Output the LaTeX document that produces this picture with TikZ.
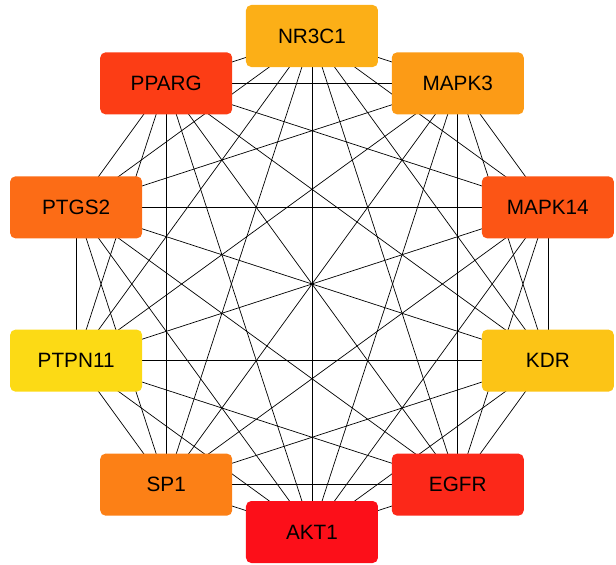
\documentclass[tikz,border=0pt]{standalone}
\usepackage{fontspec}
\setmainfont{Liberation Sans}
\usetikzlibrary{backgrounds}

\definecolor{cNR}{RGB}{252,175,23}
\definecolor{cPPARG}{RGB}{252,61,21}
\definecolor{cMAPKiii}{RGB}{252,155,22}
\definecolor{cPTGS}{RGB}{252,108,22}
\definecolor{cMAPKxiv}{RGB}{252,85,21}
\definecolor{cPTPN}{RGB}{252,218,21}
\definecolor{cKDR}{RGB}{252,196,22}
\definecolor{cSP}{RGB}{252,128,22}
\definecolor{cEGFR}{RGB}{252,40,25}
\definecolor{cAKT}{RGB}{252,15,25}

\tikzset{gene/.style={rectangle, rounded corners=3pt, minimum width=2.64cm,
    minimum height=1.24cm, inner sep=0pt, font=\fontsize{11.8}{14}\selectfont}}

\begin{document}
\begin{tikzpicture}[line width=0.9pt]
    \useasboundingbox (-6.24,-5.6) rectangle (6.08,5.68);
    \node[gene, fill=cNR] (NR) at (90:4.96) {NR3C1};
    \node[gene, fill=cMAPKiii] (M3) at (54:4.96) {MAPK3};
    \node[gene, fill=cMAPKxiv] (M14) at (18:4.96) {MAPK14};
    \node[gene, fill=cKDR] (K) at (-18:4.96) {KDR};
    \node[gene, fill=cEGFR] (E) at (-54:4.96) {EGFR};
    \node[gene, fill=cAKT] (A1) at (-90:4.96) {AKT1};
    \node[gene, fill=cSP] (S1) at (-126:4.96) {SP1};
    \node[gene, fill=cPTPN] (PN) at (-162:4.96) {PTPN11};
    \node[gene, fill=cPTGS] (PT) at (162:4.96) {PTGS2};
    \node[gene, fill=cPPARG] (PP) at (126:4.96) {PPARG};
    \begin{pgfonlayer}{background}
    \draw (NR.center) edge (M3.center) edge (M14.center) edge (K.center) edge (E.center)
        edge (A1.center) edge (S1.center) edge (PN.center) edge (PT.center) edge (PP.center);
    \draw (M3.center) edge (M14.center) edge (K.center) edge (E.center) edge (A1.center)
        edge (S1.center) edge (PN.center) edge (PT.center) edge (PP.center);
    \draw (M14.center) edge (K.center) edge (E.center) edge (A1.center) edge (S1.center)
        edge (PN.center) edge (PT.center) edge (PP.center);
    \draw (K.center) edge (E.center) edge (A1.center) edge (S1.center) edge (PN.center)
        edge (PT.center) edge (PP.center);
    \draw (E.center) edge (A1.center) edge (S1.center) edge (PN.center) edge (PT.center)
        edge (PP.center);
    \draw (A1.center) edge (S1.center) edge (PN.center) edge (PT.center) edge (PP.center);
    \draw (S1.center) edge (PN.center) edge (PT.center) edge (PP.center);
    \draw (PN.center) edge (PT.center) edge (PP.center);
    \draw (PT.center) edge (PP.center);
    \end{pgfonlayer}
\end{tikzpicture}
\end{document}
